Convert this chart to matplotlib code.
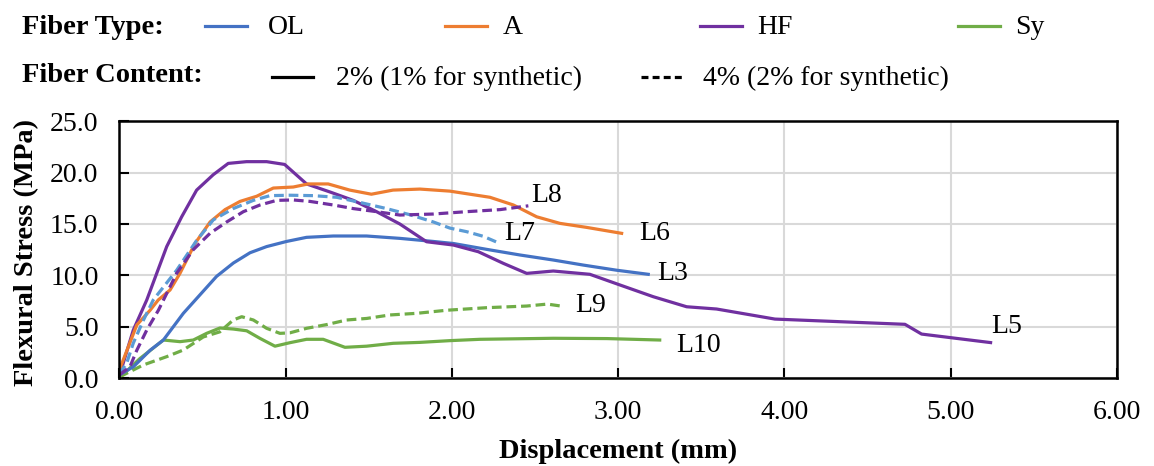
import matplotlib
matplotlib.use("Agg")
import matplotlib.pyplot as plt
from matplotlib.lines import Line2D

plt.rcParams['font.family'] = ['Liberation Serif', 'DejaVu Serif']
plt.rcParams['lines.scale_dashes'] = False

# Flexural stress (MPa) vs. displacement (mm)
ol2_x = [0.0, 0.085, 0.185, 0.265, 0.385, 0.485, 0.585, 0.686, 0.786, 0.886, 1.006, 1.126, 1.287, 1.487, 1.687, 1.888, 2.009, 2.209, 2.41, 2.61, 2.79, 2.99, 3.181]
ol2_y = [0.3, 1.1, 2.7, 3.7, 6.3, 8.1, 9.9, 11.2, 12.2, 12.8, 13.3, 13.7, 13.83, 13.83, 13.6, 13.3, 13.1, 12.53, 11.98, 11.49, 11.0, 10.5, 10.1]

ol4_x = [0.0, 0.044, 0.084, 0.144, 0.204, 0.345, 0.465, 0.565, 0.685, 0.806, 0.906, 1.026, 1.166, 1.307, 1.447, 1.607, 1.748, 1.888, 1.988, 2.089, 2.189, 2.289]
ol4_y = [0.4, 1.43, 3.4, 5.6, 7.6, 10.5, 13.4, 15.4, 16.5, 17.3, 17.76, 17.8, 17.76, 17.6, 17.1, 16.5, 15.9, 15.2, 14.6, 14.25, 13.8, 13.1]

a2_x = [0.0, 0.105, 0.185, 0.234, 0.305, 0.365, 0.455, 0.546, 0.636, 0.726, 0.826, 0.926, 1.046, 1.136, 1.256, 1.386, 1.516, 1.646, 1.808, 1.988, 2.229, 2.37, 2.51, 2.65, 2.81, 3.021]
a2_y = [0.78, 5.16, 6.6, 7.6, 8.57, 10.2, 13.1, 15.2, 16.4, 17.2, 17.7, 18.5, 18.6, 18.9, 18.9, 18.3, 17.9, 18.3, 18.4, 18.2, 17.6, 16.85, 15.7, 15.06, 14.67, 14.09]

hf2_x = [0.0, 0.084, 0.165, 0.285, 0.375, 0.465, 0.565, 0.655, 0.765, 0.886, 0.994, 1.126, 1.27, 1.407, 1.547, 1.687, 1.848, 2.009, 2.159, 2.309, 2.45, 2.61, 2.83, 3.011, 3.211, 3.412, 3.592, 3.943, 4.725, 4.825, 5.24]
hf2_y = [0.2, 4.67, 7.6, 12.8, 15.7, 18.3, 19.8, 20.9, 21.07, 21.07, 20.8, 18.9, 18.1, 17.3, 16.2, 15.0, 13.27, 12.95, 12.3, 11.17, 10.19, 10.42, 10.1, 9.06, 7.92, 6.94, 6.72, 5.74, 5.23, 4.28, 3.45]

hf4_x = [0.0, 0.064, 0.105, 0.165, 0.235, 0.345, 0.445, 0.546, 0.646, 0.746, 0.846, 0.946, 1.046, 1.146, 1.287, 1.407, 1.547, 1.687, 1.888, 2.089, 2.29, 2.46]
hf4_y = [0.3, 1.1, 2.7, 4.67, 6.6, 10.2, 12.5, 14.1, 15.2, 16.2, 16.85, 17.3, 17.34, 17.2, 16.85, 16.5, 16.2, 15.87, 15.97, 16.2, 16.4, 16.77]

sy1_x = [0.0, 0.124, 0.265, 0.365, 0.445, 0.525, 0.605, 0.685, 0.766, 0.846, 0.936, 1.026, 1.126, 1.226, 1.357, 1.487, 1.647, 1.808, 1.988, 2.169, 2.61, 2.934, 3.25]
sy1_y = [0.0, 1.9, 3.7, 3.54, 3.7, 4.35, 4.87, 4.77, 4.6, 3.86, 3.1, 3.44, 3.77, 3.77, 2.99, 3.1, 3.38, 3.47, 3.64, 3.77, 3.87, 3.84, 3.7]

sy2_x = [0.0, 0.144, 0.285, 0.385, 0.505, 0.605, 0.685, 0.736, 0.806, 0.886, 0.966, 1.026, 1.126, 1.246, 1.367, 1.487, 1.627, 1.788, 1.969, 2.21, 2.45, 2.574, 2.66]
sy2_y = [0.1, 1.27, 2.08, 2.73, 4.0, 4.5, 5.65, 5.97, 5.65, 4.84, 4.35, 4.4, 4.84, 5.2, 5.65, 5.8, 6.14, 6.3, 6.6, 6.85, 7.01, 7.2, 7.0]

# Specimen tags (text, x, y)
tags = [("L8", 2.48, 17.8), ("L7", 2.313, 14.1), ("L6", 3.127, 14.1),
        ("L3", 3.237, 10.2), ("L9", 2.744, 7.1), ("L10", 3.352, 3.2),
        ("L5", 5.246, 5.06)]

x_ticks = [0, 1, 2, 3, 4, 5, 6]
y_ticks = [0, 5, 10, 15, 20, 25]

C_OL = '#4472C4'
C_OL4 = '#5B9BD5'
C_A = '#ED7D31'
C_HF = '#7030A0'
C_SY = '#70AD47'
LW = 2.3
DASH = (7, 3.5)
FS = 20

fig = plt.figure(figsize=(11.54, 4.66), dpi=100)
ax = fig.add_axes([0.1034, 0.1888, 0.8645, 0.5509])

ax.plot(sy1_x, sy1_y, color=C_SY, lw=LW)
ax.plot(sy2_x, sy2_y, color=C_SY, lw=LW, dashes=DASH)
ax.plot(ol2_x, ol2_y, color=C_OL, lw=LW)
ax.plot(hf2_x, hf2_y, color=C_HF, lw=LW)
ax.plot(a2_x, a2_y, color=C_A, lw=LW)
ax.plot(ol4_x, ol4_y, color=C_OL4, lw=LW, dashes=DASH)
ax.plot(hf4_x, hf4_y, color=C_HF, lw=LW, dashes=DASH)

for t, x, y in tags:
    ax.text(x, y, t, fontsize=FS, ha='left', va='center')

ax.set_xlim(0, 6)
ax.set_ylim(0, 25)
ax.set_xticks(x_ticks)
ax.set_yticks(y_ticks)
ax.set_xticklabels([f"{v:.2f}" for v in x_ticks])
ax.set_yticklabels([f"{v:.1f}" for v in y_ticks])
ax.tick_params(direction='in', length=7, width=1.5, labelsize=FS)
ax.tick_params(axis='y', pad=15)
ax.tick_params(axis='x', pad=16)
ax.grid(True, color='#D9D9D9', lw=1.5)
ax.set_axisbelow(True)
for s in ax.spines.values():
    s.set_linewidth(1.8)
    s.set_color('black')

ax.set_xlabel("Displacement (mm)", fontsize=20.5, fontweight='bold')
ax.set_ylabel("Flexural Stress (MPa)", fontsize=20.5, fontweight='bold')
ax.xaxis.set_label_coords(0.5, -0.235)
ax.yaxis.set_label_coords(-0.08, 0.49)

# Legend header rows
W, H = 1154.0, 466.0


def fx(px):
    return px / W


def fy(py):
    return 1 - py / H


fig.text(fx(22), fy(28), "Fiber Type:", fontsize=20.5, fontweight='bold', va='center', ha='left')
fig.text(fx(22), fy(76), "Fiber Content:", fontsize=20.5, fontweight='bold', va='center', ha='left')

type_items = [(C_OL, "OL", 205, 268), (C_A, "A", 445, 503), (C_HF, "HF", 700, 757), (C_SY, "Sy", 958, 1015)]
for col, lab, x0, xt in type_items:
    fig.add_artist(Line2D([fx(x0), fx(x0 + 42)], [fy(26), fy(26)], color=col, lw=LW))
    fig.text(fx(xt), fy(28), lab, fontsize=FS, va='center', ha='left')

fig.add_artist(Line2D([fx(272), fx(313)], [fy(77), fy(77)], color='black', lw=LW))
fig.text(fx(336), fy(78), "2% (1% for synthetic)", fontsize=FS, va='center', ha='left')
fig.add_artist(Line2D([fx(641), fx(683)], [fy(77), fy(77)], color='black', lw=LW, dashes=(5, 3)))
fig.text(fx(703), fy(78), "4% (2% for synthetic)", fontsize=FS, va='center', ha='left')

fig.savefig("out.png", dpi=100)
